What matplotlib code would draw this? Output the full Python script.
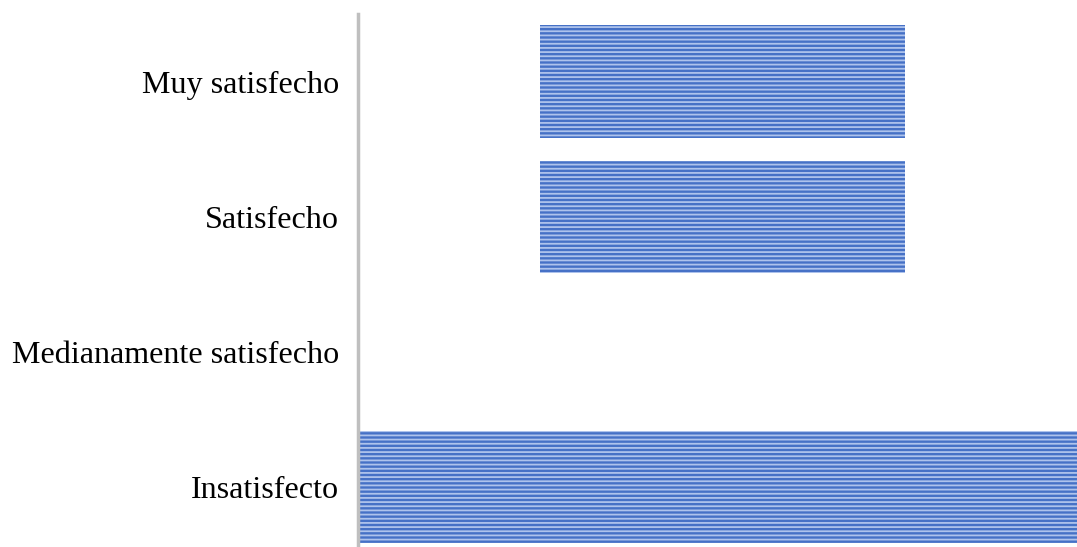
import matplotlib.pyplot as plt

plt.rcParams['font.family'] = ['Liberation Serif', 'DejaVu Serif']
plt.rcParams['hatch.linewidth'] = 1.3

categorias = ["Insatisfecto", "Medianamente satisfecho", "Satisfecho", "Muy satisfecho"]
inicio = [0, 0, 25.3, 25.3]
valores = [105, 0, 50.8, 50.8]

fig = plt.figure(figsize=(10.77, 5.47), dpi=100)
ax = fig.add_axes([358 / 1077, 0, 1 - 358 / 1077, 1 - 14 / 547])

pos = range(len(categorias))
ax.barh(pos, valores, left=inicio, height=0.83, color="#4671C6",
        edgecolor="#AEC3EC", linewidth=0, hatch="----")

ax.set_xlim(0, 100)
ax.set_ylim(-0.444, 3.5)
ax.set_yticks(list(pos))
ax.set_yticklabels(categorias, fontsize=23.1, color="black")
ax.tick_params(axis="y", length=0, pad=13.5)
ax.set_xticks([])

for lado in ["top", "right", "bottom"]:
    ax.spines[lado].set_visible(False)
ax.spines["left"].set_color("#BFBFBF")
ax.spines["left"].set_linewidth(2.5)

fig.savefig("out.png", dpi=100)
